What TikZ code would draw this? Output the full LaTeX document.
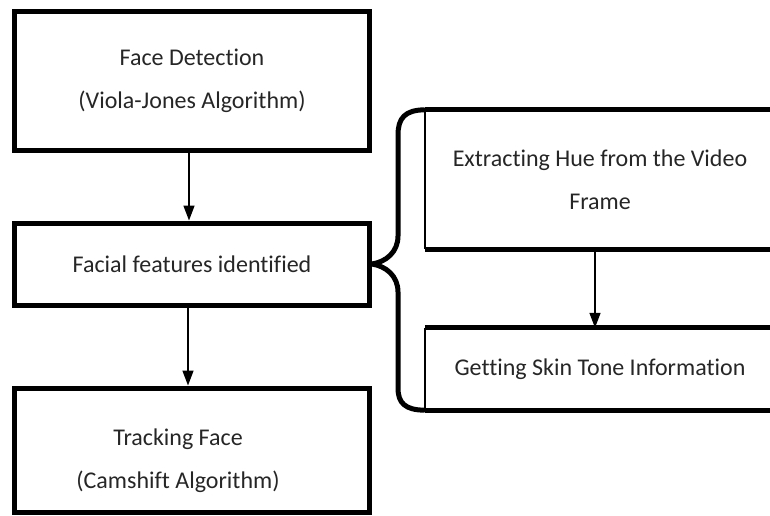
\documentclass[tikz,border=0pt]{standalone}
\usepackage{fontspec}
\setmainfont[Ligatures={NoCommon}]{Carlito}
\usetikzlibrary{arrows.meta}
\begin{document}
\begin{tikzpicture}[x=1pt,y=-1pt,
  box/.style={draw=black,line width=5pt,rectangle,minimum width=354.5pt,align=center,inner sep=0pt,
    font=\fontsize{24}{43}\selectfont,text=black!85},
  rbox/.style={rectangle,minimum width=350pt,align=center,inner sep=0pt,
    font=\fontsize{24}{43}\selectfont,text=black!85},
  thickline/.style={line width=5pt},
  thinline/.style={line width=1.5pt},
  arr/.style={line width=1.5pt,-{Triangle[length=15pt,width=11pt]}},
  brace/.style={line width=5pt,line join=round}]
\useasboundingbox (0,0) rectangle (770,515);
\clip (0,0) rectangle (770,515);
% left column
\node[box,minimum height=138.5pt] (b1) at (192,80.75) {Face Detection\\(Viola-Jones Algorithm)};
\node[box,minimum height=82pt] (b2) at (192,264) {Facial features identified};
\node[box,minimum height=124pt] (b3) at (192,450) {\rule{0pt}{38pt}Tracking Face\hspace*{28pt}\\(Camshift Algorithm)\hspace*{28pt}};
% right column
\node[rbox,minimum height=139pt] (r1) at (600,179.5) {Extracting Hue from the Video\\Frame};
\node[rbox,minimum height=82pt] (r2) at (600,369) {Getting Skin Tone Information};
% right boxes: thick top and bottom, thin left, open right
\draw[thickline] (r1.north west) -- (r1.north east);
\draw[thickline] (r1.south west) -- (r1.south east);
\draw[thinline] (r1.north west) -- (r1.south west);
\draw[thickline] (r2.north west) -- (r2.north east);
\draw[thickline] (r2.south west) -- (r2.south east);
\draw[thinline] (r2.north west) -- (r2.south west);
% arrows
\draw[arr] ([xshift=-3pt]b1.south) -- ([xshift=-3pt]b2.north);
\draw[arr] ([xshift=-4pt]b2.south) -- ([xshift=-4pt]b3.north);
\draw[arr] ([xshift=-5pt]r1.south) -- ([xshift=-5pt]r2.north);
% brace
\coordinate (bt) at (b2.east);
\draw[brace] (r1.north west) .. controls (405,110) and (398,118) .. (398,135)
  -- (398,236) .. controls (398,252) and (386,262) .. (bt)
  .. controls (386,266) and (398,276) .. (398,292)
  -- (398,388) .. controls (398,403) and (405,410) .. (r2.south west);
\end{tikzpicture}
\end{document}
